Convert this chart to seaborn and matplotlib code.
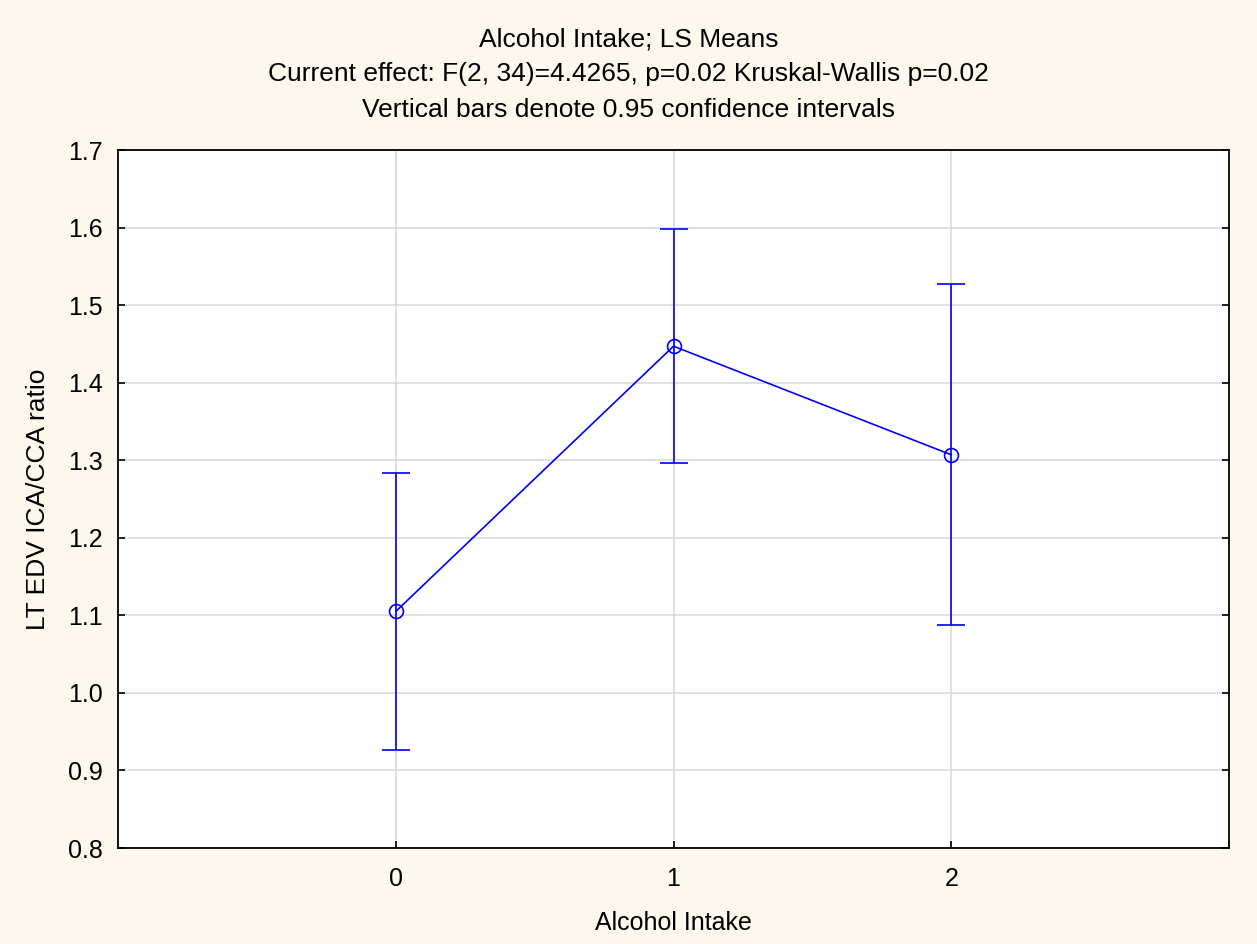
import numpy as np
import pandas as pd
import matplotlib
matplotlib.use('Agg')
import matplotlib.pyplot as plt
import seaborn as sns

# Dados
intake = [0, 1, 2]
ls_mean = [1.105, 1.447, 1.307]
ci_low = [0.926, 1.297, 1.088]
ci_high = [1.284, 1.598, 1.527]

titles = ['Alcohol Intake; LS Means',
          'Current effect: F(2, 34)=4.4265, p=0.02 Kruskal-Wallis p=0.02',
          'Vertical bars denote 0.95 confidence intervals']

df = pd.DataFrame({'intake': intake, 'mean': ls_mean, 'low': ci_low, 'high': ci_high})

sns.set_style('whitegrid')
plt.rcParams['font.family'] = ['Liberation Sans', 'DejaVu Sans']
plt.rcParams['text.color'] = 'black'
plt.rcParams['axes.labelcolor'] = 'black'

bg = '#fdf8ed'
blue = '#0000ff'

fig = plt.figure(figsize=(12.57, 9.44), dpi=100, facecolor=bg)
ax = fig.add_axes([118 / 1257, 1 - 848 / 944, (1229 - 118) / 1257, (848 - 150) / 944])
ax.set_facecolor('white')

# Intervalos de confiança
ax.errorbar(df['intake'], df['mean'],
            yerr=[df['mean'] - df['low'], df['high'] - df['mean']],
            fmt='none', ecolor=blue, elinewidth=1.2, capsize=10, capthick=1.2, zorder=3)

# Linha das médias
sns.lineplot(data=df, x='intake', y='mean', color=blue, linewidth=1.2,
             marker='o', markersize=10, markerfacecolor='none',
             markeredgecolor=blue, markeredgewidth=1.2, ax=ax, zorder=4)

ax.set_xlim(-1, 3)
ax.set_ylim(0.8, 1.7)
ax.set_xticks(intake)
ax.set_xticklabels([str(v) for v in intake])
ax.set_yticks(np.round(np.arange(0.8, 1.71, 0.1), 1))
ax.yaxis.set_major_formatter(matplotlib.ticker.FormatStrFormatter('%.1f'))

ax.grid(True, color='#d9d9d9', linewidth=1.1)
for s in ax.spines.values():
    s.set_color('black')
    s.set_linewidth(1.3)
    s.set_visible(True)

ax.tick_params(axis='both', direction='in', length=5, width=1.2, color='black',
               labelsize=18, labelcolor='black')
ax.tick_params(axis='x', pad=14)
ax.tick_params(axis='y', pad=11, right=True, left=True)
ax.tick_params(axis='x', bottom=True)

ax.set_xlabel('Alcohol Intake', fontsize=18, labelpad=14, color='black')
ax.set_ylabel('LT EDV ICA/CCA ratio', fontsize=19, labelpad=13, color='black')

for i, t in enumerate(titles):
    y = [40, 74, 110][i]
    fig.text(0.5, 1 - y / 944, t, ha='center', va='center', fontsize=19, color='black')

fig.savefig('out.png', dpi=100, facecolor=bg)
